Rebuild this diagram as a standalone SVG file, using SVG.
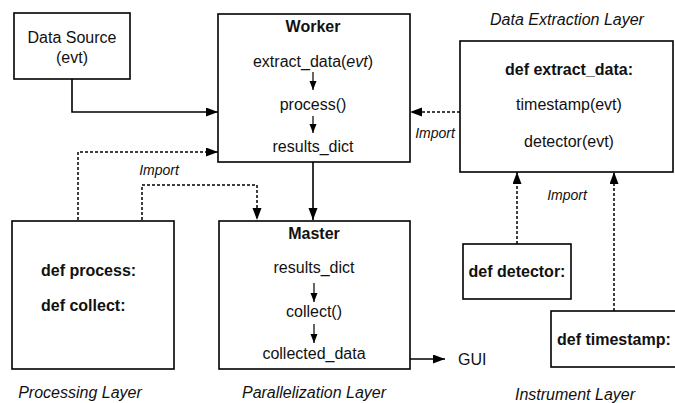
<svg xmlns="http://www.w3.org/2000/svg" width="675" height="403" viewBox="0 0 675 403">
<style>
  .box { fill: #fff; stroke: #000; stroke-width: 1.6; }
  .t { font-family: "Liberation Sans", Arial, sans-serif; font-size: 16px; fill: #111; text-anchor: middle; }
  .b { font-weight: bold; }
  .l { font-family: "Liberation Sans", Arial, sans-serif; font-size: 16px; font-style: italic; fill: #111; text-anchor: middle; }
  .imp { font-family: "Liberation Sans", Arial, sans-serif; font-size: 14px; font-style: italic; fill: #111; text-anchor: middle; }
  .solid { fill: none; stroke: #000; stroke-width: 1.6; }
  .dot { fill: none; stroke: #000; stroke-width: 1.5; stroke-dasharray: 3 2; }
  .small { fill: none; stroke: #000; stroke-width: 1.2; }
</style>
<defs>
  <marker id="ah" markerUnits="userSpaceOnUse" markerWidth="13" markerHeight="10" refX="12" refY="4.5" orient="auto">
    <path d="M0,0 L12,4.5 L0,9 z" fill="#000"/>
  </marker>
  <marker id="as" markerUnits="userSpaceOnUse" markerWidth="10" markerHeight="8" refX="9" refY="3.5" orient="auto">
    <path d="M0,0 L9,3.5 L0,7 z" fill="#000"/>
  </marker>
</defs>
<rect width="675" height="403" fill="#fff"/>

<g id="connectors">
  <path class="solid" d="M72,79 V112 H218" marker-end="url(#ah)"/>
  <path class="solid" d="M313,162 V220" marker-end="url(#ah)"/>
  <path class="solid" d="M410,359 H445" marker-end="url(#ah)"/>
  <path class="dot" d="M78,220 V152 H218" marker-end="url(#ah)"/>
  <path class="dot" d="M142,220 V185 H257 V220" marker-end="url(#ah)"/>
  <path class="dot" d="M460,112 H410" marker-end="url(#ah)"/>
  <path class="dot" d="M517,244 V172" marker-end="url(#ah)"/>
  <path class="dot" d="M614,311 V172" marker-end="url(#ah)"/>
  <text class="imp" x="159" y="175">Import</text>
  <text class="imp" x="435" y="138">Import</text>
  <text class="imp" x="567" y="200">Import</text>
  <text class="t" x="458" y="365" style="text-anchor:start">GUI</text>
</g>

<g id="data-source">
  <rect class="box" x="14" y="13" width="116" height="66"/>
  <text class="t" x="72" y="43">Data Source</text>
  <text class="t" x="72" y="63">(evt)</text>
</g>

<g id="worker">
  <rect class="box" x="218" y="14" width="192" height="148"/>
  <text class="t b" x="313" y="32">Worker</text>
  <text class="t" x="313" y="67">extract_data(<tspan font-style="italic">evt</tspan>)</text>
  <path class="small" d="M313,72 V90" marker-end="url(#as)"/>
  <text class="t" x="313" y="110">process()</text>
  <path class="small" d="M313,116 V133" marker-end="url(#as)"/>
  <text class="t" x="313" y="152">results_dict</text>
</g>

<g id="master">
  <rect class="box" x="219" y="221" width="191" height="148"/>
  <text class="t b" x="314" y="239">Master</text>
  <text class="t" x="314" y="273">results_dict</text>
  <path class="small" d="M314,283 V302" marker-end="url(#as)"/>
  <text class="t" x="314" y="317">collect()</text>
  <path class="small" d="M314,324 V343" marker-end="url(#as)"/>
  <text class="t" x="314" y="359">collected_data</text>
</g>

<g id="processing">
  <rect class="box" x="12" y="221" width="162" height="148"/>
  <text class="t b" x="41" y="276" style="text-anchor:start">def process:</text>
  <text class="t b" x="41" y="311" style="text-anchor:start">def collect:</text>
</g>

<g id="data-extraction">
  <rect class="box" x="460" y="41" width="213" height="131"/>
  <text class="t b" x="569" y="75">def extract_data:</text>
  <text class="t" x="569" y="110">timestamp(evt)</text>
  <text class="t" x="569" y="147">detector(evt)</text>
</g>

<g id="detector">
  <rect class="box" x="463" y="244" width="108" height="55"/>
  <text class="t b" x="517" y="277">def detector:</text>
</g>

<g id="timestamp">
  <rect class="box" x="551" y="311" width="130" height="56"/>
  <text class="t b" x="557" y="345" style="text-anchor:start">def timestamp:</text>
</g>

<g id="labels">
  <text class="l" x="80" y="398">Processing Layer</text>
  <text class="l" x="314" y="398">Parallelization Layer</text>
  <text class="l" x="567" y="25">Data Extraction Layer</text>
  <text class="l" x="575" y="400">Instrument Layer</text>
</g>
</svg>
